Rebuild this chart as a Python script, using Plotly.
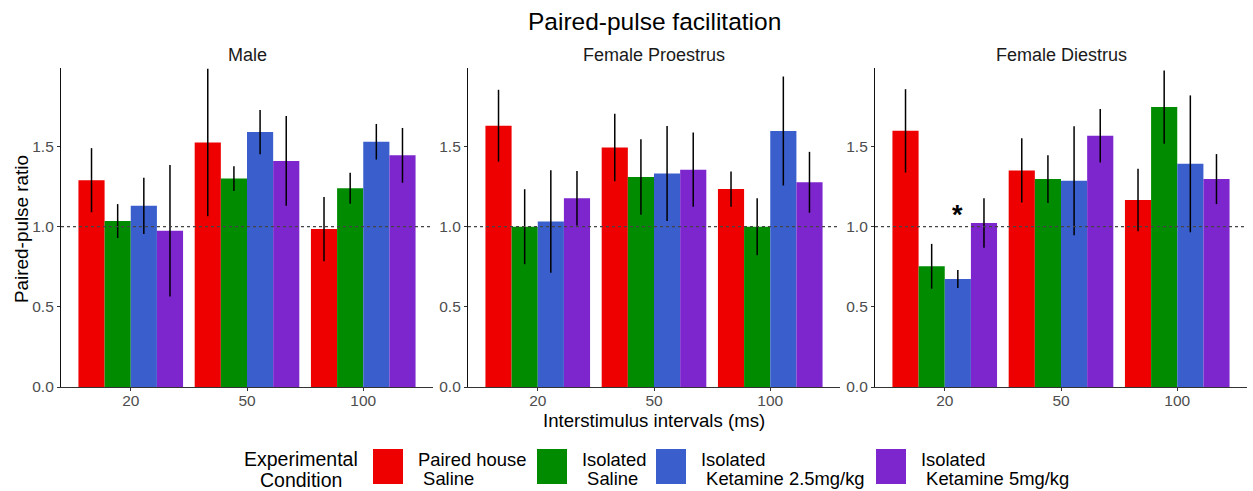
import plotly.graph_objects as go

# ---- data ----
intervals = ["20", "50", "100"]
panels = ["Male", "Female Proestrus", "Female Diestrus"]
conditions = ["Paired house\n Saline", "Isolated\n Saline",
              "Isolated\n Ketamine 2.5mg/kg", "Isolated\n Ketamine 5mg/kg"]
legend_title = "Experimental\nCondition"
colors = ["#EE0000", "#008B00", "#3A5FCD", "#7D26CD"]

# values per condition, each list ordered by interval (20, 50, 100)
male_mean = [[1.29, 1.525, 0.985], [1.035, 1.30, 1.24], [1.13, 1.59, 1.53], [0.975, 1.41, 1.445]]
male_se = [[0.20, 0.46, 0.20], [0.106, 0.077, 0.097], [0.175, 0.138, 0.111], [0.41, 0.28, 0.171]]
pro_mean = [[1.63, 1.494, 1.235], [1.0, 1.31, 1.0], [1.032, 1.332, 1.597], [1.178, 1.356, 1.277]]
pro_se = [[0.224, 0.21, 0.11], [0.234, 0.236, 0.178], [0.32, 0.296, 0.34], [0.17, 0.232, 0.19]]
die_mean = [[1.598, 1.351, 1.167], [0.753, 1.297, 1.746], [0.674, 1.287, 1.392], [1.023, 1.567, 1.297]]
die_se = [[0.26, 0.20, 0.195], [0.14, 0.149, 0.228], [0.056, 0.34, 0.427], [0.155, 0.167, 0.156]]

sig_panel = 2          # Female Diestrus
sig_interval = 0       # "20"
sig_condition = 2      # Ketamine 2.5mg/kg
sig_y = 1.075

means = [male_mean, pro_mean, die_mean]
ses = [male_se, pro_se, die_se]

W, H = 1253, 491
PLOT_TOP, PLOT_BOT = 68, 387
fig = go.Figure()

domains = [[61 / W, 433 / W], [468 / W, 840 / W], [875 / W, 1247 / W]]
BASE_FONT = "Liberation Sans, Arial, sans-serif"
TICK_FONT = dict(family=BASE_FONT, size=15.5, color="#4D4D4D")


def py(pix):
    """pixel row -> paper y"""
    return (PLOT_BOT - pix) / (PLOT_BOT - PLOT_TOP)


for p in range(3):
    xa = "x" if p == 0 else f"x{p+1}"
    ya = "y" if p == 0 else f"y{p+1}"
    for c in range(4):
        fig.add_trace(go.Bar(
            x=intervals, y=means[p][c], name=conditions[c].replace("\n", " "),
            marker=dict(color=colors[c], line=dict(width=0)),
            error_y=dict(type="data", array=ses[p][c], visible=True,
                         color="black", thickness=1.5, width=0),
            xaxis=xa, yaxis=ya, showlegend=False,
            offsetgroup=str(c), legendgroup=str(c),
        ))
    axsuffix = "" if p == 0 else str(p + 1)
    fig.layout["xaxis" + axsuffix] = dict(
        domain=domains[p], anchor=ya, type="category",
        categoryorder="array", categoryarray=intervals,
        range=[-0.6, 2.6], showline=True, linecolor="#333333", linewidth=1.2,
        ticks="outside", ticklen=3, tickcolor="#333333", tickfont=TICK_FONT,
        ticklabelstandoff=-4,
        showgrid=False, zeroline=False, fixedrange=True,
    )
    fig.layout["yaxis" + axsuffix] = dict(
        domain=[0, 1], anchor=xa, range=[0, 1.99],
        tickvals=[0, 0.5, 1.0, 1.5], tickformat=".1f",
        showline=True, linecolor="#111111", linewidth=1.2,
        ticks="outside", ticklen=3, tickcolor="#333333", tickfont=TICK_FONT,
        showgrid=False, zeroline=False, fixedrange=True,
    )
    # dotted reference line at ratio 1.0
    fig.add_shape(type="line", xref=f"{xa} domain", yref=ya,
                  x0=0, x1=1, y0=1.0, y1=1.0,
                  line=dict(color="#444444", width=1.2, dash="dot"))
    # panel title
    fig.add_annotation(text=panels[p], xref="paper", yref="paper",
                       x=(domains[p][0] + domains[p][1]) / 2, y=py(55),
                       showarrow=False, xanchor="center", yanchor="middle",
                       font=dict(family=BASE_FONT, size=18, color="#1A1A1A"))

# significance marker above the bar (dodge offset computed from group layout)
bar_w = 0.9 / 4
sig_x = sig_interval + (sig_condition - 1.5) * bar_w
fig.add_annotation(text="<b>*</b>", xref=f"x{sig_panel+1}", yref=f"y{sig_panel+1}",
                   x=sig_x, y=sig_y, showarrow=False, yanchor="middle",
                   font=dict(family=BASE_FONT, size=27, color="black"))

# main title
fig.add_annotation(text="Paired-pulse facilitation", xref="paper", yref="paper",
                   x=654 / W, y=py(21), showarrow=False,
                   xanchor="center", yanchor="middle",
                   font=dict(family=BASE_FONT, size=24.5, color="black"))
# axis titles
fig.add_annotation(text="Interstimulus intervals (ms)", xref="paper", yref="paper",
                   x=(domains[1][0] + domains[1][1]) / 2, y=py(420),
                   showarrow=False, xanchor="center", yanchor="middle",
                   font=dict(family=BASE_FONT, size=18.6, color="black"))
fig.add_annotation(text="Paired-pulse ratio", xref="paper", yref="paper",
                   x=21 / W, y=py(229), textangle=-90, showarrow=False,
                   xanchor="center", yanchor="middle",
                   font=dict(family=BASE_FONT, size=18.9, color="black"))

# legend (drawn manually to get ggplot-style large keys and tight line spacing)
for i, line in enumerate(legend_title.split("\n")):
    fig.add_annotation(text=line, xref="paper", yref="paper",
                       x=301 / W, y=py(459 + 21 * i), showarrow=False,
                       xanchor="center", yanchor="middle",
                       font=dict(family=BASE_FONT, size=19.5, color="black"))
key_x = [373, 537, 656, 876]
for c in range(4):
    fig.add_shape(type="rect", xref="paper", yref="paper",
                  x0=key_x[c] / W, x1=(key_x[c] + 30) / W,
                  y0=py(484), y1=py(449), fillcolor=colors[c],
                  line=dict(width=0))
    for i, line in enumerate(conditions[c].split("\n")):
        fig.add_annotation(text=line.replace(" ", "\u00a0"), xref="paper", yref="paper",
                           x=(key_x[c] + 43) / W, y=py(459 + 19.5 * i), showarrow=False,
                           align="left", xanchor="left", yanchor="middle",
                           font=dict(family=BASE_FONT, size=18.4, color="black"))

fig.update_layout(
    width=W, height=H, barmode="group", bargap=0.1, bargroupgap=0,
    margin=dict(l=0, r=0, t=PLOT_TOP, b=H - PLOT_BOT),
    plot_bgcolor="white", paper_bgcolor="white",
    font=dict(family=BASE_FONT),
    showlegend=False,
)

fig.write_html("out.html")
